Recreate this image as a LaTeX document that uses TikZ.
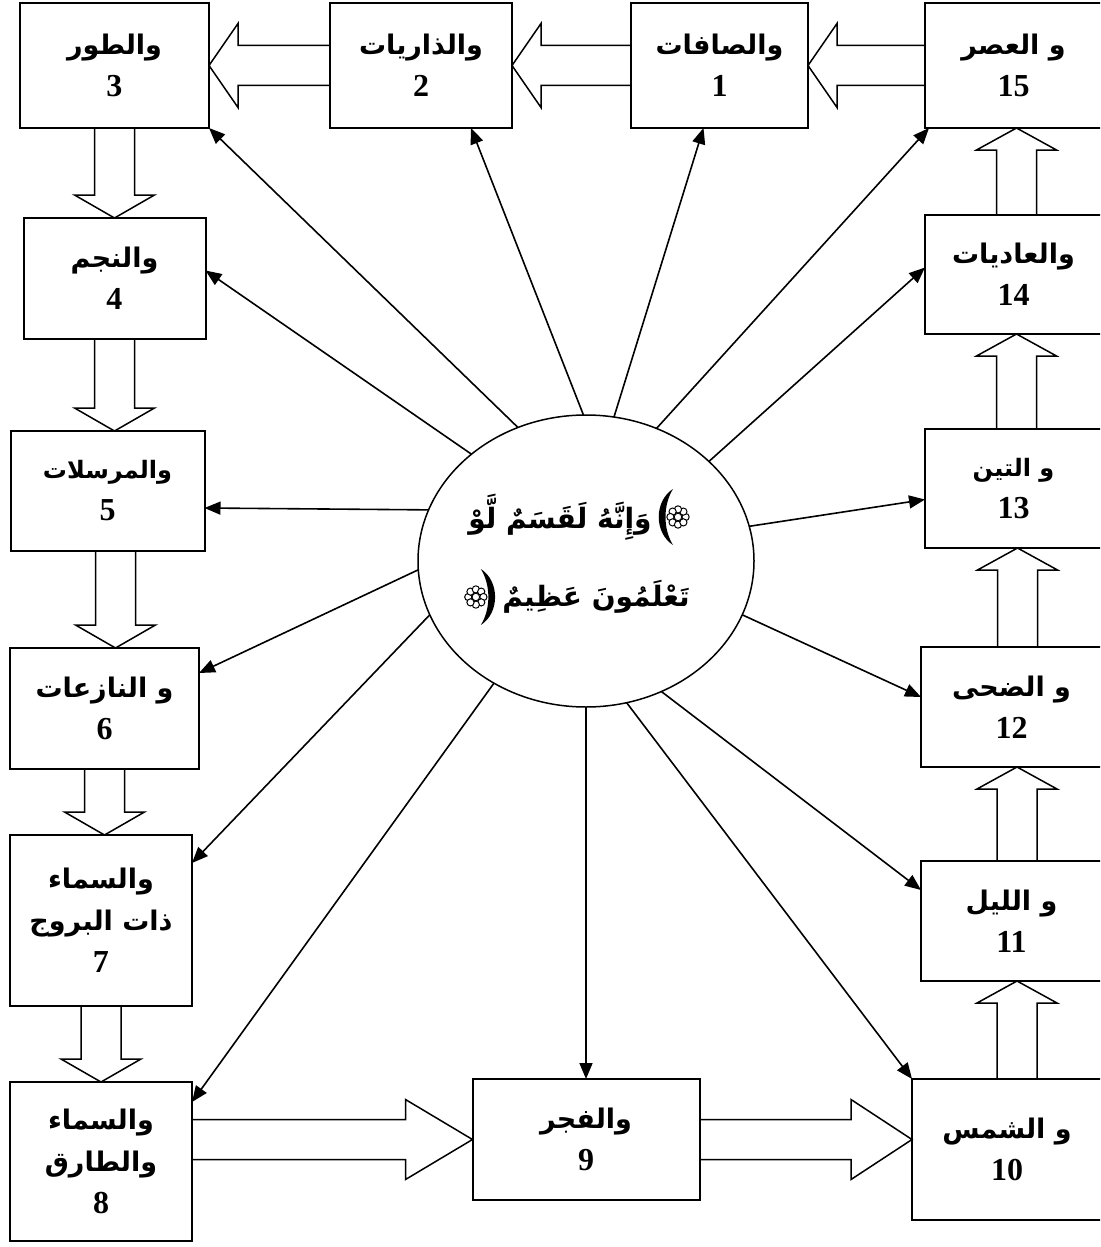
\documentclass[tikz,border=0pt]{standalone}
\usepackage{fontspec}
\setmainfont{Liberation Serif}
\newfontfamily\arabicfont[Script=Arabic]{DejaVu Sans}
\TeXXeTstate=1
\usetikzlibrary{arrows.meta,positioning,shapes.geometric,calc}
\newcommand{\artxt}[2][13.5]{{\arabicfont\bfseries\fontsize{#1}{21}\selectfont\beginR #2\endR}}

\begin{document}
\begin{tikzpicture}[x=1pt, y=-1pt,
  box/.style={rectangle, draw=black, line width=1pt, align=center, inner sep=0pt, outer sep=0pt, font=\bfseries\fontsize{16}{21}\selectfont},
  qtext/.style={inner sep=0pt},
  arr/.style={-{Triangle[length=8pt,width=6.5pt]}, line width=0.8pt},
  fat/.style={draw=black, line width=0.75pt, line join=miter},
  orn/.pic={
    \fill (3.5pt,14pt) .. controls (-6pt,8pt) and (-6pt,-8pt) .. (3.5pt,-14pt)
      .. controls (-1.5pt,-6pt) and (-1.5pt,6pt) .. (3.5pt,14pt);
    \foreach \k in {0,45,...,315}
      \draw[line width=0.5pt, fill=white] (6pt,0pt) ++(\k:3.8pt) circle (1.8pt);
    \draw[line width=0.5pt, fill=white] (6pt,0pt) circle (1.9pt);
  }]
\useasboundingbox (0,0) rectangle (550,623.5);
\clip (0,0) rectangle (550,623.5);

% top row
\node[box, minimum width=94.5pt, minimum height=62.5pt] (b3) at (57.25,32.75) {\artxt{والطور}\\3};
\node[box, minimum width=91pt, minimum height=62.5pt, right=60.5pt of b3] (b2) {\artxt{والذاريات}\\2};
\node[box, minimum width=88.5pt, minimum height=62.5pt, right=59.5pt of b2] (b1) {\artxt{والصافات}\\1};
\node[box, minimum width=88.5pt, minimum height=62.5pt, right=58.5pt of b1] (b15) {\artxt{و العصر}\\15};

% left column
\node[box, minimum width=91pt, minimum height=60.5pt, below=45pt of b3] (b4) {\artxt{والنجم}\\4};
\node[box, minimum width=97pt, minimum height=60pt, below=46pt of b4, xshift=-3.5pt] (b5) {\artxt[12]{والمرسلات}\\5};
\node[box, minimum width=94.5pt, minimum height=60.5pt, below=48.5pt of b5, xshift=-1.5pt] (b6) {\artxt{و النازعات}\\6};
\node[box, minimum width=91pt, minimum height=85.5pt, below=33pt of b6, xshift=-1.75pt] (b7) {\artxt{والسماء}\\\artxt{ذات البروج}\\7};
\node[box, minimum width=91pt, minimum height=79.5pt, below=38pt of b7] (b8) {\artxt{والسماء}\\\artxt{والطارق}\\8};

% right column
\node[box, minimum width=88.5pt, minimum height=59.5pt, below=43.5pt of b15] (b14) {\artxt{والعاديات}\\14};
\node[box, minimum width=88.5pt, minimum height=59.5pt, below=47.5pt of b14] (b13) {\artxt[12]{و التين}\\13};
\node[box, minimum width=90.5pt, minimum height=60pt, below=49.5pt of b13, xshift=-1pt] (b12) {\artxt{و الضحى}\\12};
\node[box, minimum width=90.5pt, minimum height=60pt, below=47pt of b12] (b11) {\artxt{و الليل}\\11};
\node[box, minimum width=95pt, minimum height=70.5pt, below=49pt of b11, xshift=-2.25pt] (b10) {\artxt{و الشمس}\\10};

% centre
\node[draw, ellipse, line width=0.75pt, minimum width=168pt, minimum height=146pt, inner sep=0pt, outer sep=0pt] (c) at (293,280.5) {};
\node[qtext] (q1) at ([shift={(-13pt,22pt)}]c.center) {\artxt[14]{وَإِنَّهُ لَقَسَمٌ لَّوْ}};
\node[qtext] (q2) at ([shift={(5pt,-18pt)}]c.center) {\artxt[14]{تَعْلَمُونَ عَظِيمٌ}};
\pic at ([xshift=7pt]q1.east) {orn};
\pic[xscale=-1] at ([xshift=-7pt]q2.west) {orn};
\node[box, minimum width=113.5pt, minimum height=60.5pt, below=186pt of c] (b9) {\artxt{والفجر}\\9};

% thin arrows from the centre
\foreach \ang/\tgt/\dx/\dy in {117/b3.south east/0/0, 91.2/b2.south east/-20.5/0, 79.6/b1.south/-8/0,
  62/b15.south west/2/0, 39.8/b14.west/0/3.5, 12.6/b13.west/0/-5.5, 341.1/b12.west/0/5,
  300.9/b11.west/0/15.5, 286.7/b10.north west/0/0, 233.6/b8.north east/0/-10,
  199.2/b7.north east/0/-14, 183/b6.north east/0/-12.5, 162.8/b5.east/0/-8.5, 137.1/b4.east/0/4}
  \draw[arr] (c.\ang) -- ([shift={(\dx pt,\dy pt)}]\tgt);
\draw[arr] (c.south) -- (b9.north);

% block arrows
\foreach \a/\b/\s in {b3/b4/0, b4/b5/0, b5/b6/4, b6/b7/0, b7/b8/0}
  \draw[fat] let \p1=([xshift=\s pt]\a.south), \p2=(\b.north) in
    (\x1-10pt,\y1) -- (\x1-10pt,\y2+11.5pt) -- (\x1-20pt,\y2+11.5pt) -- (\x1,\y2)
    -- (\x1+20pt,\y2+11.5pt) -- (\x1+10pt,\y2+11.5pt) -- (\x1+10pt,\y1);
\foreach \a/\b/\s in {b10/b11/5, b11/b12/2.75, b12/b13/3, b13/b14/1.5, b14/b15/1.5}
  \draw[fat] let \p1=([xshift=\s pt]\a.north), \p2=(\b.south) in
    (\x1-10pt,\y1) -- (\x1-10pt,\y2-11pt) -- (\x1-20pt,\y2-11pt) -- (\x1,\y2)
    -- (\x1+20pt,\y2-11pt) -- (\x1+10pt,\y2-11pt) -- (\x1+10pt,\y1);
\foreach \a/\b in {b15/b1, b1/b2, b2/b3}
  \draw[fat] let \p1=(\a.west), \p2=(\b.east) in
    (\x1,\y1+10pt) -- (\x2+14.5pt,\y1+10pt) -- (\x2+14.5pt,\y1+21pt) -- (\x2,\y1)
    -- (\x2+14.5pt,\y1-21pt) -- (\x2+14.5pt,\y1-10pt) -- (\x1,\y1-10pt);
\foreach \a/\b/\h in {b8/b9/33.5, b9/b10/30.5}
  \draw[fat] let \p1=(\a.east), \p2=(\b.west), \p3=(b9.center) in
    (\x1,\y3+10pt) -- (\x2-\h pt,\y3+10pt) -- (\x2-\h pt,\y3+20pt) -- (\x2,\y3)
    -- (\x2-\h pt,\y3-20pt) -- (\x2-\h pt,\y3-10pt) -- (\x1,\y3-10pt);
\end{tikzpicture}
\end{document}
